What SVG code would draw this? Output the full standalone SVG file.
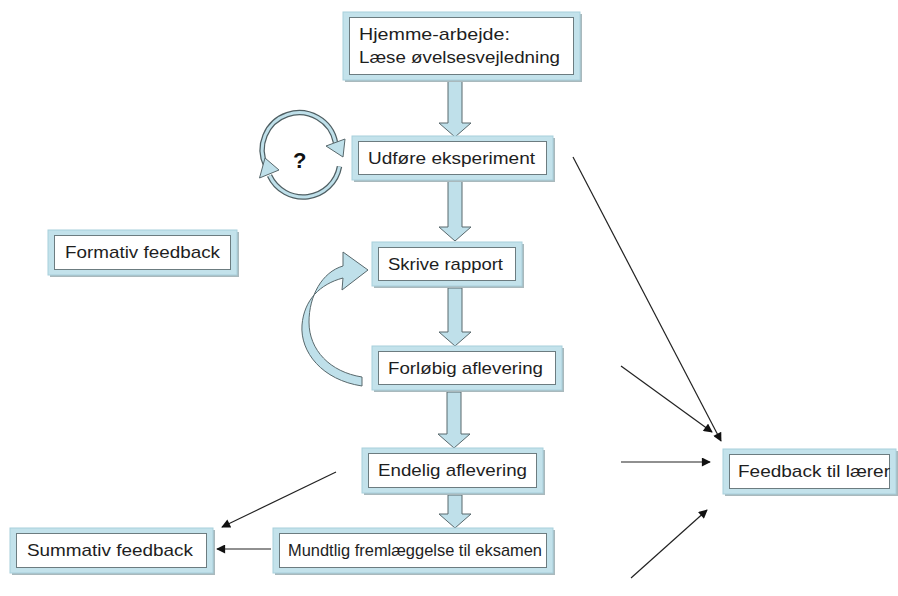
<svg xmlns="http://www.w3.org/2000/svg" width="898" height="596" viewBox="0 0 898 596">
<style>
.sh{fill:#a9b9bd}
.fr{fill:#c3e2eb;stroke:#a8d0dc;stroke-width:1}
.in{fill:#ffffff;stroke:#6c7c80;stroke-width:1}
.t{font-family:"Liberation Sans",Arial,sans-serif;font-size:17px;fill:#1e1e1e}
.ba{fill:#bfe0ea;stroke:#58686c;stroke-width:1}
.cn{stroke:#222;stroke-width:1.2;fill:none;marker-end:url(#ah)}
.arc1{fill:none;stroke:#4f5f63;stroke-width:5.5}
.arc2{fill:none;stroke:#bfe0ea;stroke-width:3}
</style>
<defs>
<marker id="ah" viewBox="0 0 10 10" refX="9" refY="5" markerWidth="10" markerHeight="9" markerUnits="userSpaceOnUse" orient="auto">
<path d="M0,0 L10,5 L0,10 Z" fill="#111"/>
</marker>
</defs>
<rect width="898" height="596" fill="#ffffff"/>

<g id="connectors">
<path class="ba" d="M448,81 H462 V123 H471 L455,137 L439,123 H448 Z"/>
<path class="ba" d="M448,181 H462 V227 H471 L455,241 L439,227 H448 Z"/>
<path class="ba" d="M448,288 H462 V332 H471 L455,346 L439,332 H448 Z"/>
<path class="ba" d="M447,392 H461 V434 H470 L454,448 L438,434 H447 Z"/>
<path class="ba" d="M448,495 H462 V514 H471 L455,528 L439,514 H448 Z"/>
<path class="ba" d="M362,386 C322,380 300,352 302,325 C304,300 320,284 343,278 L342,290 L368,270 L343,252 L343,266 C322,272 309,296 309,322 C309,350 330,372 362,377 Z"/>
<path class="arc1" d="M266,166 A37,37 0 1 1 335.5,142.5"/>
<path class="arc2" d="M266,166 A37,37 0 1 1 335.5,142.5"/>
<path class="ba" d="M326,146 L345,139 L343,157 Z"/>
<path class="arc1" d="M339.5,166.5 A37,37 0 0 1 269.5,175.5"/>
<path class="arc2" d="M339.5,166.5 A37,37 0 0 1 269.5,175.5"/>
<path class="ba" d="M259.5,178 L279,170 L265,158 Z"/>
<line class="cn" x1="573" y1="157" x2="721" y2="441"/>
<line class="cn" x1="621" y1="366" x2="712" y2="432"/>
<line class="cn" x1="621" y1="462" x2="710" y2="462"/>
<line class="cn" x1="631" y1="578" x2="707" y2="510"/>
<line class="cn" x1="336" y1="472" x2="222" y2="527"/>
<line class="cn" x1="271" y1="549" x2="217" y2="549"/>
</g>

<text x="293" y="168" font-family="Liberation Sans,Arial,sans-serif" font-size="22" font-weight="bold" fill="#111">?</text>

<g id="n1">
<rect class="sh" x="345" y="14" width="237" height="68"/>
<rect class="fr" x="343" y="12" width="237" height="68"/>
<rect class="in" x="349.5" y="17.5" width="224" height="57"/>
<text class="t" x="359" y="40" textLength="151" lengthAdjust="spacingAndGlyphs">Hjemme-arbejde:</text>
<text class="t" x="359" y="63" textLength="201" lengthAdjust="spacingAndGlyphs">Læse øvelsesvejledning</text>
</g>
<g id="n2">
<rect class="sh" x="354" y="138" width="201" height="44"/>
<rect class="fr" x="352" y="136" width="201" height="44"/>
<rect class="in" x="358.5" y="141.5" width="188" height="33"/>
<text class="t" x="368" y="164" textLength="167" lengthAdjust="spacingAndGlyphs">Udføre eksperiment</text>
</g>
<g id="n3">
<rect class="sh" x="374" y="244" width="150" height="44"/>
<rect class="fr" x="372" y="242" width="150" height="44"/>
<rect class="in" x="378.5" y="247.5" width="137" height="33"/>
<text class="t" x="388" y="270" textLength="115" lengthAdjust="spacingAndGlyphs">Skrive rapport</text>
</g>
<g id="n4">
<rect class="sh" x="374" y="348" width="190" height="44"/>
<rect class="fr" x="372" y="346" width="190" height="44"/>
<rect class="in" x="378.5" y="351.5" width="177" height="33"/>
<text class="t" x="388" y="374" textLength="155" lengthAdjust="spacingAndGlyphs">Forløbig aflevering</text>
</g>
<g id="n5">
<rect class="sh" x="364" y="450" width="181" height="45"/>
<rect class="fr" x="362" y="448" width="181" height="45"/>
<rect class="in" x="368.5" y="453.5" width="168" height="34"/>
<text class="t" x="378" y="476" textLength="149" lengthAdjust="spacingAndGlyphs">Endelig aflevering</text>
</g>
<g id="n6">
<rect class="sh" x="275" y="530" width="280" height="45"/>
<rect class="fr" x="273" y="528" width="280" height="45"/>
<rect class="in" x="279.5" y="533.5" width="267" height="34"/>
<text class="t" x="288" y="556" textLength="254" lengthAdjust="spacingAndGlyphs">Mundtlig fremlæggelse til eksamen</text>
</g>
<g id="n7">
<rect class="sh" x="12" y="530" width="203" height="45"/>
<rect class="fr" x="10" y="528" width="203" height="45"/>
<rect class="in" x="16.5" y="533.5" width="190" height="34"/>
<text class="t" x="27" y="556" textLength="166" lengthAdjust="spacingAndGlyphs">Summativ feedback</text>
</g>
<g id="n8">
<rect class="sh" x="50" y="232" width="189" height="45"/>
<rect class="fr" x="48" y="230" width="189" height="45"/>
<rect class="in" x="54.5" y="235.5" width="176" height="34"/>
<text class="t" x="65" y="258" textLength="155" lengthAdjust="spacingAndGlyphs">Formativ feedback</text>
</g>
<g id="n9">
<rect class="sh" x="725" y="451" width="173" height="45"/>
<rect class="fr" x="723" y="449" width="173" height="45"/>
<rect class="in" x="729.5" y="454.5" width="160" height="34"/>
<text class="t" x="738" y="477" textLength="152" lengthAdjust="spacingAndGlyphs">Feedback til lærer</text>
</g>
</svg>
